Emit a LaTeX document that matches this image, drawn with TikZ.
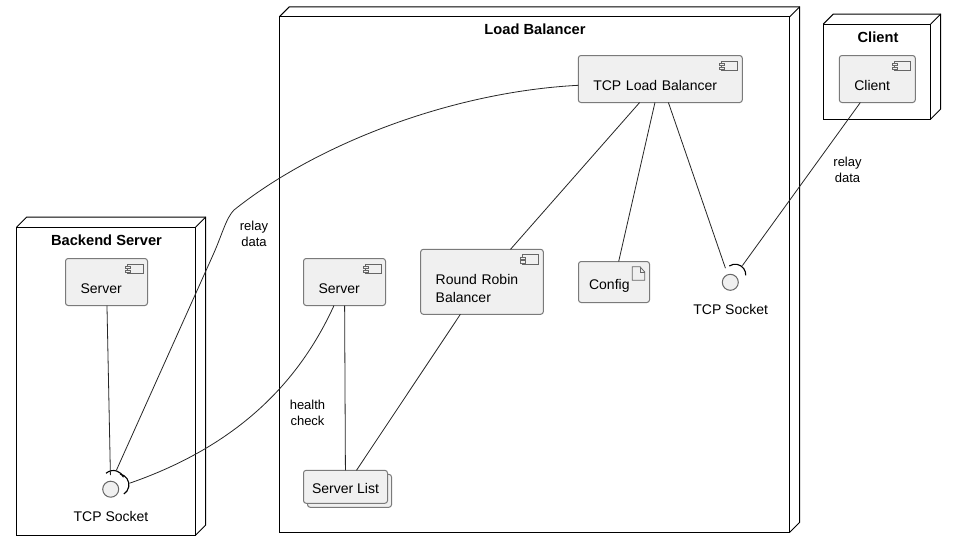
\documentclass[tikz,border=0pt]{standalone}
\usepackage{fontspec}
\setmainfont{Liberation Sans}
\tikzset{
    every node/.style={outer sep=0pt},
    frame/.style={draw=black, fill=white, line width=0.75pt, inner sep=0pt},
    frameside/.style={draw=black, line width=0.75pt},
    comp/.style={draw=black!52, fill=black!6, line width=0.75pt, rounded corners=2pt,
        inner xsep=11.25pt, inner ysep=0pt, align=left,
        font=\fontsize{10.5}{13.5}\selectfont},
    oneline/.style={text height=18pt, text depth=1.5pt},
    icon/.style={draw=black!60, line width=0.6pt},
    conn/.style={draw=black!85, line width=0.6pt},
    arcs/.style={draw=black, line width=0.85pt},
    socket/.style={circle, draw=black!60, fill=black!6, line width=0.75pt, minimum size=12pt, inner sep=0pt},
    title/.style={font=\bfseries\fontsize{11}{13}\selectfont},
    lab/.style={font=\fontsize{10.5}{13}\selectfont},
    small/.style={align=center, font=\fontsize{9.75}{12}\selectfont}
}
\newcommand{\boxsides}[1]{
    \path (#1.north east) ++(10,-10) coordinate (#1tr);
    \path (#1.south east) ++(10,-10) coordinate (#1br);
    \draw[frameside] (#1.north west) -- ++(10,-10) -- (#1tr) -- (#1br) -- (#1.south east);
    \draw[frameside] (#1.north east) -- (#1tr);
}
\newcommand{\compicon}[1]{
    \begin{scope}[shift={(#1.north east)}]
        \draw[icon] (-20.5,5.5) rectangle (-4.5,15);
        \draw[icon, fill=black!6] (-22.5,7.8) rectangle (-17.5,10.2);
        \draw[icon, fill=black!6] (-22.5,11.5) rectangle (-17.5,13.8);
    \end{scope}
}

\begin{document}
\begin{tikzpicture}[x=0.75pt, y=-0.75pt]
    \useasboundingbox (0,0) rectangle (956,551);

    % outer boxes
    \node[frame, minimum width=134.25pt, minimum height=231pt] (backbox) at (106.2,381) {};
    \boxsides{backbox}
    \node[frame, minimum width=382.8pt, minimum height=386.6pt] (lbbox) at (534.5,274.5) {};
    \boxsides{lbbox}
    \node[frame, minimum width=80.55pt, minimum height=71.25pt] (clientbox) at (877,71.5) {};
    \boxsides{clientbox}
    \node[title] (backtitle) at (106.5,240) {Backend Server};
    \node[title] (lbtitle) at (535,29) {Load Balancer};
    \node[title] (clienttitle) at (878,37) {Client};

    % parts
    \node[comp, oneline, minimum width=61.5pt, minimum height=35.25pt, text width=39pt] (backserver) at (106.5,282) {Server};
    \node[comp, oneline, minimum width=61.5pt, minimum height=35.25pt, text width=39pt] (lbserver) at (344.5,282) {Server};
    \node[comp, oneline, minimum width=123pt, minimum height=35.25pt, text width=100.5pt] (tcplb) at (660.3,79) {TCP Load Balancer};
    \node[comp, oneline, minimum width=57pt, minimum height=35.25pt, text width=34.5pt] (client) at (877.3,79) {Client};
    \node[comp, minimum width=92pt, minimum height=48.75pt, text width=69.5pt] (robin) at (482,281.8) {\rule{0pt}{18.1pt}Round Robin\\Balancer};
    \node[comp, inner xsep=7.9pt, minimum width=53.25pt, minimum height=30.75pt, text width=37.4pt, text height=12pt, text depth=1.5pt] (config) at (614,282) {Config};
    \node[comp, minimum width=63pt, minimum height=24.75pt, inner xsep=0pt, align=center] (listback) at (349.5,490.8) {};
    \node[comp, minimum width=63pt, minimum height=24.75pt, inner xsep=0pt, align=center, text height=9.5pt, text depth=0pt] (serverlist) at (345.5,486.8) {Server List};
    \compicon{backserver}
    \compicon{lbserver}
    \compicon{tcplb}
    \compicon{client}
    \compicon{robin}
    \draw[icon] (632.3,266.7) -- (640,266.7) -- (644.7,272) -- (644.7,280.3) -- (632.3,280.3) -- cycle;
    \draw[icon] (640,266.7) -- (640,272) -- (644.7,272);

    % sockets
    \node[socket] (backsocket) at (110.7,489.2) {};
    \node[socket] (lbsocket) at (730.3,282.3) {};
    \node[lab] (backsockettext) at (111,516) {TCP Socket};
    \node[lab] (lbsockettext) at (730.7,309) {TCP Socket};
    \draw[arcs] (106,473.3) arc[start angle=132, end angle=23, radius=8.25pt];
    \draw[arcs] (120,474) arc[start angle=79, end angle=-57, radius=8.25pt];
    \draw[arcs] (729.3,266) arc[start angle=124, end angle=-3, radius=7.9pt];

    % connectors
    \coordinate (relayend) at (116.5,470);
    \coordinate (relaystart) at (578.3,85.3);
    \coordinate (healthstart) at (334,305.5);
    \coordinate (healthend) at (129.3,483.3);
    \draw[conn] (relaystart) .. controls (450,92) and (315,145) .. (234,210)
        .. controls (226,218) and (222,235) .. (213,255) -- (relayend);
    \draw[conn] (healthstart) .. controls (300,380) and (240,445) .. (healthend);
    \draw[conn, shorten >=4.5pt] (backserver) -- (backsocket);
    \draw[conn] (lbserver) -- (serverlist);
    \draw[conn] (robin) -- (serverlist);
    \draw[conn] (tcplb) -- (robin);
    \draw[conn] (tcplb) -- (config);
    \draw[conn, shorten >=5.25pt] (tcplb) -- (lbsocket);
    \draw[conn, shorten >=9.5pt] (client) -- (lbsocket);

    % link texts
    \node[small] (relayback) at (254,234) {relay\\data};
    \node[small] (relayclient) at (847.5,170) {relay\\data};
    \node[small] (healthtext) at (307.5,413) {health\\check};
\end{tikzpicture}
\end{document}
